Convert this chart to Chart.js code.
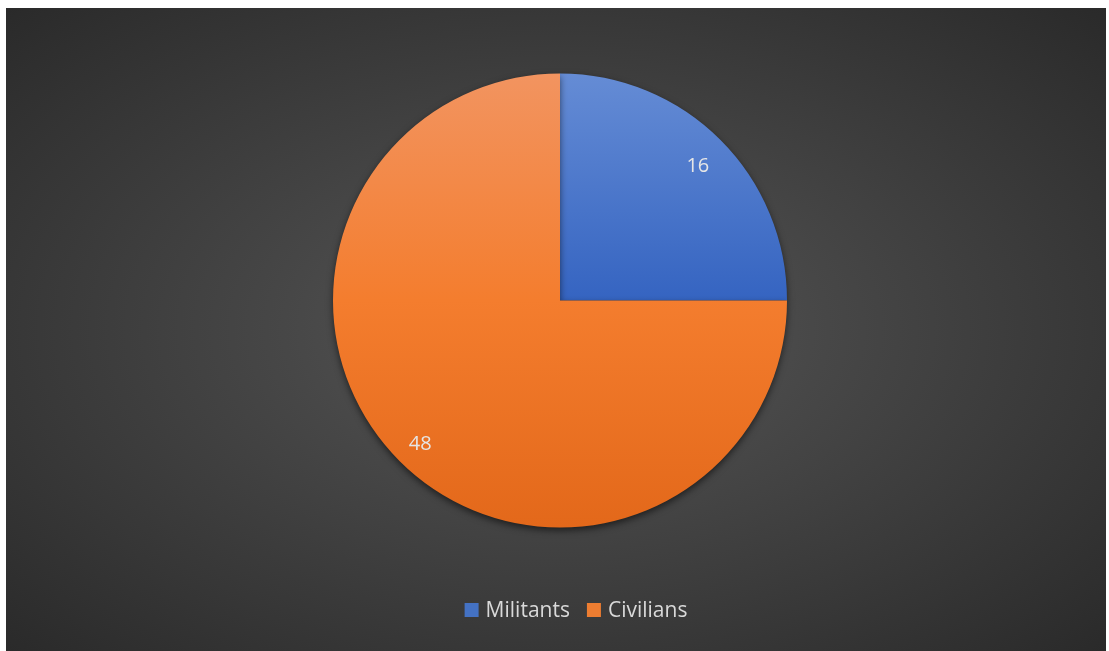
<!DOCTYPE html>
<html>
<head>
<meta charset="utf-8">
<script src="https://cdn.jsdelivr.net/npm/chart.js@4/dist/chart.umd.min.js"></script>
<style>
  html, body { margin: 0; padding: 0; background: #fff; }
  #wrap {
    position: absolute; left: 6px; top: 8px; width: 1100px; height: 643px;
    background: radial-gradient(ellipse farthest-corner at 50% 50%, #585858 0%, #474747 35%, #2a2a2a 100%);
  }
</style>
</head>
<body>
<div id="wrap"><canvas id="pieChart"></canvas></div>
<script>
const categories = ["Militants", "Civilians"];
const casualties = [16, 48];
const sliceColors = ["#4472c4", "#ed7d31"];

// vertical gradients give the slices the same soft Office shading
const shades = {
  "#4472c4": ["#658cd5", "#3564c1", "#2d5bb8"],
  "#ed7d31": ["#f29460", "#f47d2e", "#e3681a"],
};

function sliceFill(context) {
  const chart = context.chart;
  const area = chart.chartArea;
  if (!area) return sliceColors[context.dataIndex];
  const s = shades[sliceColors[context.dataIndex]];
  const g = chart.ctx.createLinearGradient(0, area.top, 0, area.bottom);
  g.addColorStop(0, s[0]);
  g.addColorStop(0.5, s[1]);
  g.addColorStop(1, s[2]);
  return g;
}

const shadowPlugin = {
  id: "shadow",
  beforeDatasetsDraw(chart) {
    const ctx = chart.ctx;
    ctx.save();
    ctx.shadowColor = "rgba(0,0,0,0.55)";
    ctx.shadowBlur = 7;
    ctx.shadowOffsetY = 3;
  },
  afterDatasetsDraw(chart) {
    chart.ctx.restore();
  },
};

const labelPlugin = {
  id: "sliceLabels",
  afterDatasetsDraw(chart) {
    const ctx = chart.ctx;
    const meta = chart.getDatasetMeta(0);
    ctx.save();
    ctx.font = "20px 'Open Sans'";
    ctx.fillStyle = "#e6e6e6";
    ctx.textAlign = "center";
    ctx.textBaseline = "middle";
    meta.data.forEach((arc, i) => {
      const p = arc.getProps(["x", "y", "startAngle", "endAngle", "outerRadius"], true);
      const mid = (p.startAngle + p.endAngle) / 2;
      const r = p.outerRadius * 0.865;
      ctx.fillText(String(casualties[i]), p.x + Math.cos(mid) * r - 1, p.y + Math.sin(mid) * r + 5);
    });
    ctx.restore();
  },
};

const legendPlugin = {
  id: "bottomLegend",
  afterDraw(chart) {
    const ctx = chart.ctx;
    ctx.save();
    ctx.font = "21px 'Open Sans'";
    ctx.textBaseline = "middle";
    const box = 14, gap = 7, spacing = 17;
    const widths = categories.map(c => box + gap + ctx.measureText(c).width);
    const total = widths.reduce((a, b) => a + b, 0) + spacing * (categories.length - 1);
    let x = chart.width / 2 + 20 - total / 2;
    const y = chart.height - 41;
    categories.forEach((c, i) => {
      ctx.fillStyle = sliceColors[i];
      ctx.fillRect(x, y - box / 2, box, box);
      ctx.fillStyle = "#d9d9d9";
      ctx.fillText(c, x + box + gap, y + 1);
      x += widths[i] + spacing;
    });
    ctx.restore();
  },
};

new Chart(document.getElementById("pieChart").getContext("2d"), {
  type: "pie",
  data: {
    labels: categories,
    datasets: [{
      data: casualties,
      backgroundColor: sliceFill,
      borderWidth: 0,
    }],
  },
  options: {
    responsive: true,
    maintainAspectRatio: false,
    animation: false,
    layout: { padding: { left: 327, right: 319, top: 65, bottom: 123 } },
    plugins: {
      legend: { display: false },
      tooltip: { enabled: false },
    },
  },
  plugins: [shadowPlugin, labelPlugin, legendPlugin],
});
</script>
</body>
</html>
